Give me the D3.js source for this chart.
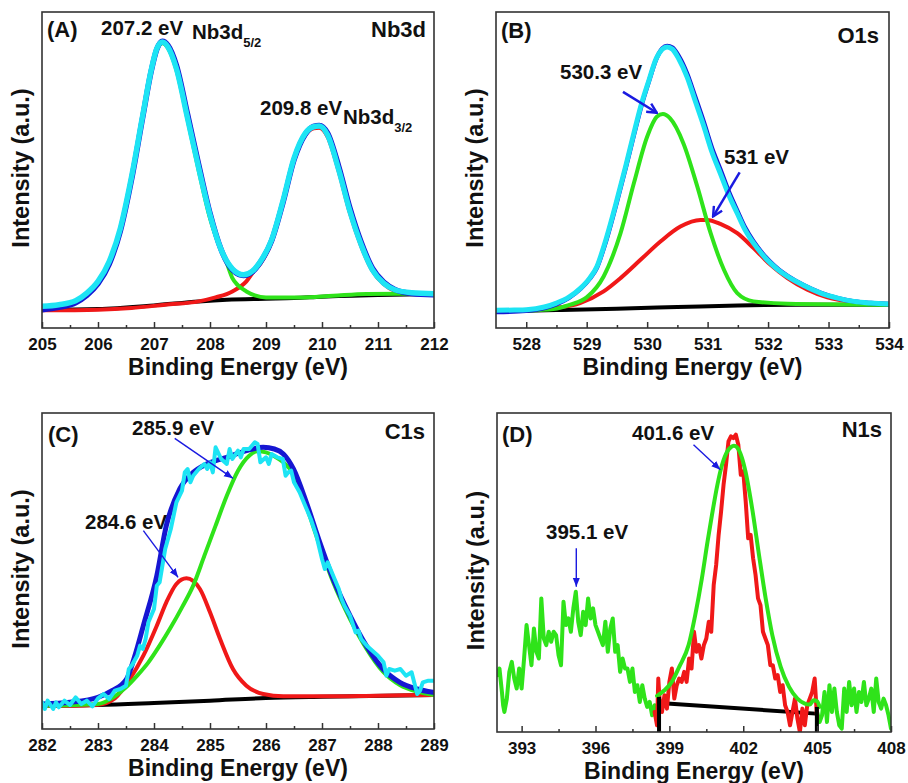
<!DOCTYPE html>
<html>
<head>
<meta charset="utf-8">
<script src="https://cdnjs.cloudflare.com/ajax/libs/d3/7.8.5/d3.min.js"></script>
<style>
  body { margin: 0; background: #fff; }
  svg { display: block; font-family: "Liberation Sans", Arial, sans-serif; font-weight: bold; }
</style>
</head>
<body>
<svg id="chart" width="908" height="783"></svg>
<script>
// XPS spectra, intensity in arbitrary units

// (A) Nb3d
const nbTicks = [205, 206, 207, 208, 209, 210, 211, 212];
const nbMinor = [205.5, 206.5, 207.5, 208.5, 209.5, 210.5, 211.5];
const nbBackground = [[205,55],[206,57],[207,68],[207.8,80],[208.3,85],[209,88],[209.5,90],[210,94],[211,99],[212,102]];
const nbPeak52 = [[205,60],[205.5,72],[205.8,100],[206,136],[206.2,196],[206.4,296],[206.6,451],[206.8,636],[206.95,771],[207.05,836],[207.15,856],[207.25,841],[207.4,776],[207.6,626],[207.8,472],[208,330],[208.15,255],[208.3,195],[208.4,150],[208.5,128],[208.65,110],[208.8,98],[209,92],[209.6,92],[210.2,97],[210.8,102],[211.4,103],[212,103]];
const nbPeak32 = [[205,53],[206,55],[206.6,60],[207.2,70],[207.8,80],[208.1,92],[208.4,110],[208.65,140],[208.8,175],[208.9,194],[209.1,259],[209.3,374],[209.5,504],[209.7,580],[209.85,600],[209.95,602],[210.1,575],[210.3,470],[210.5,345],[210.7,246],[210.9,172],[211.1,132],[211.3,112],[211.6,104],[212,101]];
const nbFit = [[205,55],[205.3,62],[205.6,76],[205.8,98],[206,133],[206.2,192],[206.4,292],[206.6,447],[206.8,635],[206.95,772],[207.05,838],[207.15,862],[207.25,850],[207.4,790],[207.6,642],[207.8,490],[208,345],[208.2,235],[208.4,175],[208.6,158],[208.75,168],[208.9,198],[209.1,262],[209.3,375],[209.5,505],[209.7,582],[209.85,606],[209.95,609],[210.1,586],[210.3,485],[210.5,360],[210.7,258],[210.9,180],[211.1,138],[211.3,116],[211.6,104],[212,100]];
const nbData = [[205,65],[205.3,70],[205.6,82],[205.8,105],[206,140],[206.2,200],[206.4,300],[206.6,455],[206.8,640],[206.95,775],[207.05,840],[207.15,860],[207.25,845],[207.4,780],[207.6,630],[207.8,480],[208,340],[208.2,235],[208.4,178],[208.6,160],[208.75,170],[208.9,200],[209.1,265],[209.3,380],[209.5,510],[209.7,585],[209.85,605],[209.95,607],[210.1,580],[210.3,475],[210.5,350],[210.7,250],[210.9,175],[211.1,135],[211.3,115],[211.6,106],[212,103]];

// (B) O1s
const oTicks = [528, 529, 530, 531, 532, 533, 534];
const oMinor = [528.5, 529.5, 530.5, 531.5, 532.5, 533.5];
const oBackground = [[527.5,50],[528.5,54],[529.5,58],[530.5,63],[531.5,68],[532.5,70],[534,70]];
const oPeak1 = [[527.5,50],[527.9,52],[528.45,57],[528.73,70],[529,92],[529.28,155],[529.56,285],[529.78,435],[530,575],[530.16,635],[530.26,643],[530.38,630],[530.6,555],[530.83,425],[531.05,285],[531.27,175],[531.49,105],[531.76,80],[532.32,73],[534,70]];
const oPeak2 = [[527.5,50],[528.45,60],[528.89,75],[529.28,110],[529.56,150],[529.89,205],[530.22,260],[530.55,305],[530.88,325],[530.99,325],[531.21,313],[531.49,285],[531.76,240],[532.04,190],[532.32,150],[532.65,115],[532.98,92],[533.42,78],[534,72]];
const oFit = [[527.5,48],[528,52],[528.3,60],[528.5,72],[528.7,90],[528.9,118],[529.05,148],[529.17,182],[529.3,250],[529.5,380],[529.65,485],[529.78,580],[529.9,665],[530.03,742],[530.15,808],[530.25,840],[530.33,848],[530.42,843],[530.52,818],[530.66,765],[530.8,692],[530.94,617],[531.07,542],[531.21,477],[531.35,410],[531.49,353],[531.62,302],[531.76,260],[531.9,226],[532.04,198],[532.18,175],[532.32,157],[532.6,128],[532.87,106],[533.15,90],[533.42,80],[533.7,75],[534,72]];
const oData = [[527.5,53],[527.8,54],[528,55],[528.3,63],[528.5,75],[528.7,92],[528.9,120],[529.05,150],[529.17,185],[529.3,255],[529.5,385],[529.65,490],[529.78,585],[529.9,670],[530.03,745],[530.15,810],[530.25,838],[530.33,845],[530.42,838],[530.52,810],[530.66,755],[530.8,680],[530.94,605],[531.07,530],[531.21,465],[531.35,400],[531.49,345],[531.62,295],[531.76,255],[531.9,222],[532.04,195],[532.18,173],[532.32,155],[532.6,127],[532.87,105],[533.15,90],[533.42,80],[533.7,75],[534,72]];
const oArrows = [[529.6,710,530.16,647],[531.53,468,531.09,335]];

// (C) C1s
const cTicks = [282, 283, 284, 285, 286, 287, 288, 289];
const cMinor = [282.5, 283.5, 284.5, 285.5, 286.5, 287.5, 288.5];
const cBackground = [[282,70],[283,72],[284,78],[285,85],[286,93],[287,97],[289,102]];
const cPeak1 = [[282,70],[282.5,70],[283,73],[283.3,92],[283.57,150],[283.81,220],[284.05,310],[284.22,380],[284.4,435],[284.58,452],[284.82,420],[285,350],[285.18,270],[285.41,180],[285.65,130],[285.95,105],[286.31,98],[287,98],[288,100],[289,102]];
const cPeak2 = [[282,70],[283,75],[283.3,98],[283.5,125],[283.7,160],[283.9,200],[284.1,250],[284.3,305],[284.5,365],[284.7,430],[284.9,520],[285.1,610],[285.3,700],[285.5,775],[285.7,820],[285.85,833],[286,830],[286.15,818],[286.31,800],[286.49,765],[286.72,668],[286.96,550],[287.2,440],[287.5,330],[287.79,242],[288.09,172],[288.39,132],[288.7,112],[289,102]];
const cFit = [[282,75],[282.5,80],[283,95],[283.25,115],[283.51,150],[283.65,215],[283.81,310],[284.05,460],[284.22,610],[284.46,720],[284.7,770],[284.94,795],[285.3,815],[285.65,835],[285.95,845],[286.15,840],[286.31,825],[286.49,780],[286.72,680],[286.96,560],[287.2,450],[287.5,340],[287.79,250],[288.09,180],[288.39,140],[288.7,120],[288.98,110]];
const cData = [[282,80],[282.05,60],[282.1,85],[282.2,60],[282.25,80],[282.3,65],[282.4,85],[282.5,72],[282.6,95],[282.7,75],[282.8,85],[282.9,68],[283,92],[283.1,105],[283.2,90],[283.3,115],[283.4,120],[283.5,130],[283.55,180],[283.6,190],[283.7,220],[283.75,250],[283.8,240],[283.85,270],[283.9,320],[284,360],[284.05,430],[284.1,440],[284.2,540],[284.3,600],[284.4,680],[284.5,715],[284.55,770],[284.6,780],[284.65,740],[284.7,760],[284.8,780],[284.9,795],[284.95,780],[285,800],[285.05,770],[285.1,845],[285.2,810],[285.3,795],[285.35,840],[285.4,810],[285.5,835],[285.55,815],[285.6,840],[285.7,840],[285.8,860],[285.85,855],[285.9,800],[286,815],[286.05,795],[286.1,825],[286.2,815],[286.3,810],[286.35,760],[286.4,770],[286.45,775],[286.5,740],[286.6,710],[286.7,670],[286.8,630],[286.9,580],[287,510],[287.05,480],[287.1,500],[287.2,460],[287.3,420],[287.35,390],[287.4,370],[287.5,340],[287.6,290],[287.65,295],[287.7,270],[287.8,250],[287.9,235],[288,220],[288.1,200],[288.15,160],[288.2,180],[288.3,175],[288.4,180],[288.5,160],[288.6,170],[288.7,105],[288.75,115],[288.8,140],[288.9,145],[289,145]];
const cArrows = [[284.37,872,285.41,752],[283.81,595,284.43,455]];

// (D) N1s
const nTicks = [393, 396, 399, 402, 405, 408];
const nMinor = [394.5, 397.5, 400.5, 403.5, 406.5];
const nDataLow = [[392,170],[392.1,190],[392.2,120],[392.25,80],[392.3,60],[392.4,100],[392.5,180],[392.6,210],[392.7,160],[392.8,130],[392.9,190],[393,130],[393.1,220],[393.2,320],[393.3,260],[393.4,200],[393.5,310],[393.6,240],[393.7,220],[393.8,400],[393.9,280],[394,260],[394.1,300],[394.2,270],[394.3,300],[394.4,290],[394.5,230],[394.6,200],[394.7,390],[394.8,320],[394.9,340],[395,300],[395.1,370],[395.2,420],[395.3,330],[395.4,290],[395.5,360],[395.6,320],[395.7,400],[395.8,340],[395.9,370],[396,320],[396.1,300],[396.2,280],[396.3,260],[396.4,330],[396.5,240],[396.6,310],[396.7,340],[396.8,240],[396.9,260],[397,180],[397.1,220],[397.2,190],[397.3,190],[397.4,150],[397.5,190],[397.6,120],[397.7,140],[397.8,90],[397.9,140],[398,100],[398.1,75],[398.2,90],[398.3,50],[398.4,80],[398.5,60]];
const nDataHigh = [[405,60],[405.1,30],[405.2,50],[405.3,120],[405.4,30],[405.5,140],[405.6,60],[405.7,130],[405.8,60],[405.9,20],[406,10],[406.1,130],[406.2,60],[406.3,150],[406.4,80],[406.5,130],[406.6,60],[406.7,120],[406.8,90],[406.9,150],[407,80],[407.1,100],[407.2,130],[407.3,60],[407.4,160],[407.5,90],[407.6,70],[407.7,100],[407.8,80],[407.9,50],[408,10]];
const nPeakData = [[398.4,60],[398.5,20],[398.55,160],[398.6,100],[398.7,60],[398.8,110],[398.9,70],[399,150],[399.1,190],[399.2,100],[399.3,140],[399.4,160],[399.5,150],[399.6,180],[399.7,150],[399.8,220],[399.9,190],[400,300],[400.1,240],[400.2,260],[400.3,220],[400.4,260],[400.5,280],[400.6,330],[400.7,300],[400.8,440],[400.9,500],[401,590],[401.1,660],[401.2,740],[401.3,800],[401.4,870],[401.5,885],[401.6,880],[401.7,890],[401.8,860],[401.9,770],[402,780],[402.1,690],[402.2,580],[402.3,590],[402.4,520],[402.5,470],[402.6,400],[402.7,380],[402.8,300],[402.9,280],[403,260],[403.1,200],[403.2,200],[403.3,160],[403.4,170],[403.5,120],[403.6,140],[403.7,80],[403.8,60],[403.9,20],[404,60],[404.1,100],[404.2,40],[404.3,0],[404.4,70],[404.5,20],[404.6,80],[404.7,100],[404.8,120],[404.9,160],[405,40]];
const nFit = [[398.5,108],[398.8,125],[399.1,150],[399.4,195],[399.78,260],[400.05,350],[400.32,460],[400.55,570],[400.73,650],[400.95,740],[401.14,800],[401.35,840],[401.5,853],[401.62,857],[401.75,852],[401.95,820],[402.09,780],[402.36,670],[402.64,530],[402.91,400],[403.18,290],[403.52,195],[403.86,135],[404.2,100],[404.5,85],[404.7,82],[404.85,95],[405,92],[405.1,75]];
const nBaseline = [[398.6,87],[404.95,55]];
const nDrops = [[398.58,105],[404.99,75]];
const nArrows = [[399.98,860,401.07,785],[395.22,550,395.22,435]];

const COL = {cyan: "#1de4f4", blue: "#1616d2", red: "#f01818", green: "#2fe31a", black: "#000", arrow: "#1a1ae0"};

const panels = [
  {id: "A", rect: [42, 12, 434, 328], xDomain: [205, 212], yMax: 950, major: nbTicks, minor: nbMinor,
   lines: [
     {data: nbBackground, color: COL.black, w: 4, smooth: true},
     {data: nbPeak32, color: COL.red, w: 4, smooth: true},
     {data: nbPeak52, color: COL.green, w: 4, smooth: true},
     {data: nbFit, color: COL.blue, w: 5.5, smooth: true},
     {data: nbData, color: COL.cyan, w: 5.5, smooth: true}],
   arrows: [], head: "solid",
   labels: [
     {t: "(A)", dx: 5, dy: 24.5, size: 22},
     {t: "207.2 eV", dx: 59, dy: 22.5, size: 20.5},
     {t: "Nb3d", sub: "5/2", dx: 150, dy: 26.5, size: 20.5},
     {t: "Nb3d", dx: 384, dy: 24.7, size: 22, anchor: "end"},
     {t: "209.8 eV", dx: 218, dy: 103, size: 20.5},
     {t: "Nb3d", sub: "3/2", dx: 301, dy: 111.5, size: 20.5}]},
  {id: "B", rect: [496, 12, 889, 328], xDomain: [527.5, 534], yMax: 950, major: oTicks, minor: oMinor,
   lines: [
     {data: oBackground, color: COL.black, w: 4, smooth: true},
     {data: oPeak2, color: COL.red, w: 4, smooth: true},
     {data: oPeak1, color: COL.green, w: 4, smooth: true},
     {data: oFit, color: COL.blue, w: 4.5, smooth: true},
     {data: oData, color: COL.cyan, w: 5, smooth: true}],
   arrows: oArrows, head: "open", arrowW: 2.5,
   labels: [
     {t: "(B)", dx: 5, dy: 26, size: 22},
     {t: "O1s", dx: 383, dy: 30.5, size: 22, anchor: "end"},
     {t: "530.3 eV", dx: 64, dy: 67, size: 20.5},
     {t: "531 eV", dx: 228, dy: 152, size: 20.5}]},
  {id: "C", rect: [42, 413, 434, 729], xDomain: [282, 289], yMax: 948, major: cTicks, minor: cMinor,
   lines: [
     {data: cBackground, color: COL.black, w: 4, smooth: true},
     {data: cPeak1, color: COL.red, w: 4, smooth: true},
     {data: cPeak2, color: COL.green, w: 4, smooth: true},
     {data: cFit, color: COL.blue, w: 5, smooth: true},
     {data: cData, color: COL.cyan, w: 4, smooth: false}],
   arrows: cArrows, head: "solid", arrowW: 1.4,
   labels: [
     {t: "(C)", dx: 6, dy: 29, size: 22},
     {t: "C1s", dx: 383, dy: 25.5, size: 22, anchor: "end"},
     {t: "285.9 eV", dx: 90, dy: 21.5, size: 20.5},
     {t: "284.6 eV", dx: 43, dy: 115.5, size: 20.5}]},
  {id: "D", rect: [497, 413, 891, 732], xDomain: [392, 408], yMax: 955, major: nTicks, minor: nMinor,
   lines: [
     {data: nDataLow, color: COL.green, w: 4, smooth: false},
     {data: nDataHigh, color: COL.green, w: 4, smooth: false},
     {data: nBaseline, color: COL.black, w: 4, smooth: false},
     {data: nPeakData, color: COL.red, w: 4, smooth: false},
     {data: nFit, color: COL.green, w: 4, smooth: true}],
   drops: nDrops,
   arrows: nArrows, head: "solid", arrowW: 1.4,
   labels: [
     {t: "(D)", dx: 5, dy: 29, size: 22},
     {t: "N1s", dx: 385, dy: 24, size: 22, anchor: "end"},
     {t: "401.6 eV", dx: 135, dy: 27, size: 20.5},
     {t: "395.1 eV", dx: 49, dy: 125.5, size: 20.5}]}
];

const svg = d3.select("#chart");
const defs = svg.append("defs");

defs.append("marker")
    .attr("id", "head-open")
    .attr("viewBox", "0 0 10 10")
    .attr("refX", 9).attr("refY", 5)
    .attr("markerWidth", 12).attr("markerHeight", 12)
    .attr("markerUnits", "userSpaceOnUse")
    .attr("orient", "auto")
    .append("path")
    .attr("d", "M1,1 L9,5 L1,9")
    .attr("fill", "none")
    .attr("stroke", COL.arrow)
    .attr("stroke-width", 2);

defs.append("marker")
    .attr("id", "head-solid")
    .attr("viewBox", "0 0 10 10")
    .attr("refX", 10).attr("refY", 5)
    .attr("markerWidth", 9).attr("markerHeight", 9)
    .attr("markerUnits", "userSpaceOnUse")
    .attr("orient", "auto")
    .append("path")
    .attr("d", "M0,1 L10,5 L0,9 Z")
    .attr("fill", COL.arrow);

panels.forEach(p => {
    const [x0, y0, x1, y1] = p.rect;
    const x = d3.scaleLinear().domain(p.xDomain).range([x0, x1]);
    const y = d3.scaleLinear().domain([0, p.yMax]).range([y1, y0]);
    const g = svg.append("g").attr("class", "panel-" + p.id);

    defs.append("clipPath").attr("id", "clip" + p.id)
        .append("rect")
        .attr("x", x0).attr("y", y0)
        .attr("width", x1 - x0).attr("height", y1 - y0);

    const plot = g.append("g").attr("clip-path", `url(#clip${p.id})`);

    // spectra
    p.lines.forEach(s => {
        const line = d3.line()
            .x(d => x(d[0]))
            .y(d => y(d[1]))
            .curve(s.smooth ? d3.curveMonotoneX : d3.curveLinear);
        plot.append("path")
            .datum(s.data)
            .attr("d", line)
            .attr("fill", "none")
            .attr("stroke", s.color)
            .attr("stroke-width", s.w)
            .attr("stroke-linejoin", "round")
            .attr("stroke-linecap", "round");
    });

    // vertical limits of the background region
    if (p.drops) {
        plot.selectAll(".drop")
            .data(p.drops)
            .enter()
            .append("line")
            .attr("x1", d => x(d[0])).attr("x2", d => x(d[0]))
            .attr("y1", y(0)).attr("y2", d => y(d[1]))
            .attr("stroke", COL.black)
            .attr("stroke-width", 4);
    }

    // arrows
    g.selectAll(".arrow")
        .data(p.arrows)
        .enter()
        .append("line")
        .attr("x1", d => x(d[0])).attr("y1", d => y(d[1]))
        .attr("x2", d => x(d[2])).attr("y2", d => y(d[3]))
        .attr("stroke", COL.arrow)
        .attr("stroke-width", p.arrowW)
        .attr("marker-end", `url(#head-${p.head})`);

    // x axis, ticks pointing inward
    g.append("g")
        .attr("transform", `translate(0,${y1})`)
        .call(d3.axisBottom(x).tickValues(p.major).tickSizeInner(-6).tickSizeOuter(0).tickFormat(d3.format("d")))
        .call(a => a.select(".domain").remove())
        .call(a => a.selectAll("line").attr("stroke", "#333").attr("stroke-width", 1.5))
        .call(a => a.selectAll("text")
            .attr("y", 21.5).attr("dy", null)
            .attr("fill", "#111")
            .style("font-family", "'Liberation Sans', Arial, sans-serif")
            .style("font-weight", "bold")
            .style("font-size", "17px"));

    g.append("g")
        .attr("transform", `translate(0,${y1})`)
        .call(d3.axisBottom(x).tickValues(p.minor).tickSizeInner(-3).tickSizeOuter(0).tickFormat(""))
        .call(a => a.select(".domain").remove())
        .call(a => a.selectAll("line").attr("stroke", "#333").attr("stroke-width", 1.5));

    // frame
    g.append("rect")
        .attr("x", x0).attr("y", y0)
        .attr("width", x1 - x0).attr("height", y1 - y0)
        .attr("fill", "none")
        .attr("stroke", "#333")
        .attr("stroke-width", 1.6);

    // axis titles
    g.append("text")
        .attr("x", (x0 + x1) / 2)
        .attr("y", y1 + 47)
        .attr("text-anchor", "middle")
        .attr("fill", "#111")
        .style("font-size", "23px")
        .text("Binding Energy (eV)");

    g.append("text")
        .attr("transform", `translate(${x0 - 13},${(y0 + y1) / 2 - 2}) rotate(-90)`)
        .attr("text-anchor", "middle")
        .attr("fill", "#111")
        .style("font-size", "23.5px")
        .text("Intensity (a.u.)");

    // annotations
    p.labels.forEach(l => {
        const t = g.append("text")
            .attr("x", x0 + l.dx)
            .attr("y", y0 + l.dy)
            .attr("text-anchor", l.anchor || "start")
            .attr("fill", "#111")
            .style("font-size", l.size + "px");
        t.append("tspan").text(l.t);
        if (l.sub) {
            t.append("tspan")
                .attr("dy", 8)
                .style("font-size", "13px")
                .text(l.sub);
        }
    });
});
</script>
</body>
</html>
